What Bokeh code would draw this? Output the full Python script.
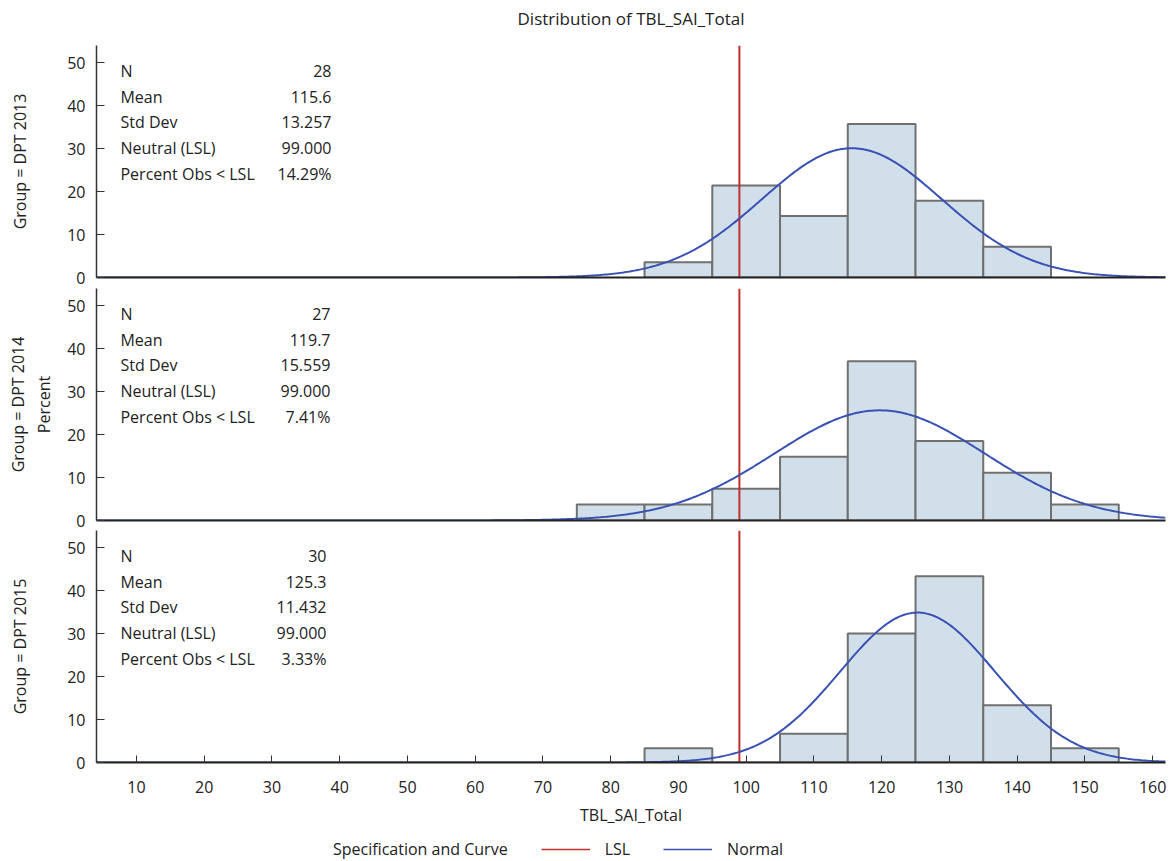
import numpy as np
from bokeh.plotting import figure
from bokeh.layouts import column
from bokeh.models import Legend, LegendItem, Range1d, FixedTicker
from bokeh.embed import file_html
from bokeh.resources import INLINE
from bokeh.core.properties import value

# ---------------- data ----------------
title_text = "Distribution of TBL_SAI_Total"
group_labels = ["Group = DPT 2013", "Group = DPT 2014\nPercent", "Group = DPT 2015"]
bin_centers_2013 = [90, 100, 110, 120, 130, 140]
pct_2013 = [3.57, 21.43, 14.29, 35.71, 17.86, 7.14]
bin_centers_2014 = [80, 90, 100, 110, 120, 130, 140, 150]
pct_2014 = [3.70, 3.70, 7.41, 14.81, 37.04, 18.52, 11.11, 3.70]
bin_centers_2015 = [90, 100, 110, 120, 130, 140, 150]
pct_2015 = [3.33, 0.0, 6.67, 30.00, 43.33, 13.33, 3.33]
bin_width = 10
n_obs = [28, 27, 30]
means = [115.6, 119.7, 125.3]
std_devs = [13.257, 15.559, 11.432]
lsl = 99.0
pct_below_lsl = ["14.29%", "7.41%", "3.33%"]
stat_names = ["N", "Mean", "Std Dev", "Neutral (LSL)", "Percent Obs < LSL"]
x_ticks = [10, 20, 30, 40, 50, 60, 70, 80, 90, 100, 110, 120, 130, 140, 150, 160]
y_ticks = [0, 10, 20, 30, 40, 50]
legend_labels = ["Specification and Curve", "LSL", "Normal"]

FONT = "Open Sans"
FILL = "#d1dfeb"
EDGE = "#707070"
BLUE = "#3851b3"
RED = "#c0302c"
AXIS = "#333333"
TXT = "#222222"

X0, X1 = 4.1, 161.9
x_range = Range1d(X0, X1)
W = 1169
LEFT = 96
RIGHT = 4

centers_all = [bin_centers_2013, bin_centers_2014, bin_centers_2015]
pcts_all = [pct_2013, pct_2014, pct_2015]
value_x = [38.79, 38.64, 38.05]


def bare(p):
    p.outline_line_color = None
    p.xgrid.visible = False
    p.ygrid.visible = False
    p.background_fill_color = "white"
    p.border_fill_color = "white"


def make_panel(i, height, top, bottom):
    p = figure(width=W, height=height, x_range=x_range, y_range=Range1d(0, 54),
               output_backend="svg", toolbar_location=None,
               min_border_left=LEFT, min_border_right=RIGHT,
               min_border_top=top, min_border_bottom=bottom)
    bare(p)

    c = np.array(centers_all[i], dtype=float)
    p.quad(left=c - bin_width / 2, right=c + bin_width / 2, top=pcts_all[i], bottom=0,
           fill_color=FILL, line_color=EDGE, line_width=2)
    p.segment(x0=[lsl], y0=[0], x1=[lsl], y1=[54], line_color=RED, line_width=2)
    xs = np.linspace(X0, X1, 500)
    ys = 100 * bin_width * np.exp(-0.5 * ((xs - means[i]) / std_devs[i]) ** 2) / (std_devs[i] * np.sqrt(2 * np.pi))
    p.line(xs, ys, line_color=BLUE, line_width=2)

    # statistics table
    vals = [str(n_obs[i]), f"{means[i]:.1f}", f"{std_devs[i]:.3f}", f"{lsl:.3f}", pct_below_lsl[i]]
    rows_y = [48.1 - 6.0 * k for k in range(5)]
    p.text(x=[7.64] * 5, y=rows_y, text=stat_names, text_font=value(FONT),
           text_font_size="16px", text_baseline="middle", text_align="left", text_color=TXT)
    p.text(x=[value_x[i]] * 5, y=rows_y, text=vals, text_font=value(FONT),
           text_font_size="16px", text_baseline="middle", text_align="right", text_color=TXT)

    ya = p.yaxis[0]
    ya.ticker = y_ticks
    ya.major_tick_in = 8
    ya.major_tick_out = 0
    ya.minor_tick_line_color = None
    ya.axis_line_color = AXIS
    ya.axis_line_width = 1.5
    ya.major_tick_line_color = AXIS
    ya.major_label_text_font = FONT
    ya.major_label_text_font_size = "16px"
    ya.major_label_text_color = TXT
    ya.major_label_standoff = 11
    ya.axis_label = group_labels[i]
    ya.axis_label_text_font = FONT
    ya.axis_label_text_font_size = "16px"
    ya.axis_label_text_font_style = "normal"
    ya.axis_label_text_color = TXT
    ya.axis_label_standoff = 9 if i == 1 else 33

    xa = p.xaxis[0]
    xa.axis_line_color = "#222222"
    xa.axis_line_width = 2
    xa.minor_tick_line_color = None
    return p


# ---------------- title strip ----------------
pt = figure(width=W, height=36, x_range=x_range, y_range=Range1d(0, 1),
            output_backend="svg", toolbar_location=None,
            x_axis_location=None, y_axis_location=None,
            min_border_left=LEFT, min_border_right=RIGHT, min_border_top=0, min_border_bottom=0)
bare(pt)
pt.text(x=[(X0 + X1) / 2], y=[0.5], text=[title_text], text_font=value(FONT),
        text_font_size="17px", text_align="center", text_baseline="middle", text_color=TXT)

p1 = make_panel(0, 252, 9, 11)
p2 = make_panel(1, 242, 0, 10)
p3 = make_panel(2, 302, 0, 70)

for p in (p1, p2):
    xa = p.xaxis[0]
    xa.ticker = FixedTicker(ticks=[])
    xa.major_tick_in = 0
    xa.major_tick_out = 0
    xa.major_label_standoff = 0

xa = p3.xaxis[0]
xa.ticker = x_ticks
xa.major_tick_in = 7
xa.major_tick_out = 0
xa.major_tick_line_color = AXIS
xa.major_label_text_font = FONT
xa.major_label_text_font_size = "16px"
xa.major_label_text_color = TXT
xa.major_label_standoff = 18
xa.axis_label = "TBL_SAI_Total"
xa.axis_label_text_font = FONT
xa.axis_label_text_font_size = "16px"
xa.axis_label_text_font_style = "normal"
xa.axis_label_text_color = TXT
xa.axis_label_standoff = 8

# ---------------- legend strip ----------------
pl = figure(width=W, height=28, x_range=Range1d(0, 1), y_range=Range1d(0, 1),
            output_backend="svg", toolbar_location=None,
            x_axis_location=None, y_axis_location=None,
            min_border_left=LEFT, min_border_right=RIGHT, min_border_top=0, min_border_bottom=0)
bare(pl)
# key renderers kept outside the visible range: they only supply legend swatches
heading = pl.line(x=[-2, -1], y=[-2, -2], line_alpha=0)
lsl_key = pl.line(x=[-2, -1], y=[-2, -2], line_color=RED, line_width=1.5)
normal_key = pl.line(x=[-2, -1], y=[-2, -2], line_color=BLUE, line_width=1.5)

legend = Legend(items=[LegendItem(label=legend_labels[0], renderers=[heading]),
                       LegendItem(label=legend_labels[1], renderers=[lsl_key]),
                       LegendItem(label=legend_labels[2], renderers=[normal_key])],
                orientation="horizontal", location=(173, 0))
legend.label_text_font = FONT
legend.label_text_font_size = "16px"
legend.label_text_color = TXT
legend.glyph_width = 49
legend.glyph_height = 16
legend.label_standoff = 15
legend.spacing = 33
legend.padding = 0
legend.margin = 0
legend.border_line_color = None
legend.background_fill_alpha = 0
pl.add_layout(legend)

layout = column(pt, p1, p2, p3, pl, spacing=0)
open("out.html", "w").write(file_html(layout, INLINE))
